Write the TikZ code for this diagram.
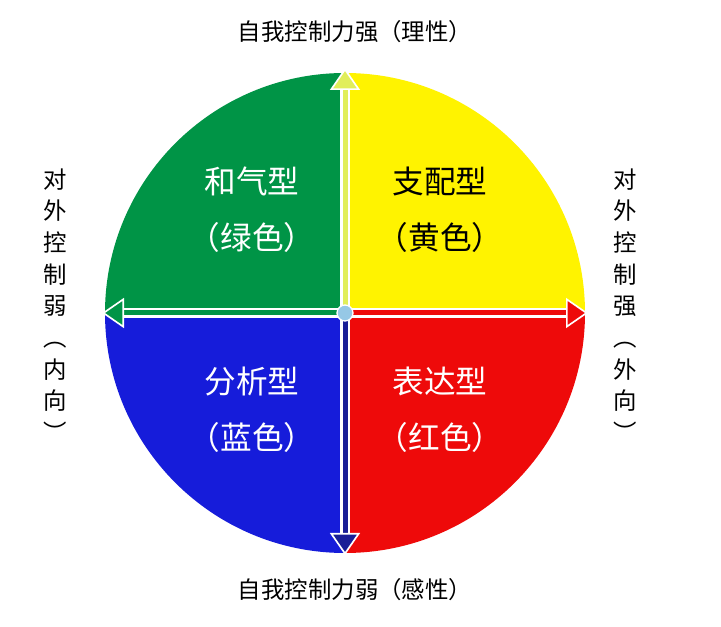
\documentclass[tikz,border=0pt]{standalone}
\usepackage{fontspec}
\setmainfont{Noto Sans CJK SC}
\usetikzlibrary{arrows.meta}
\definecolor{qgreen}{RGB}{0,148,70}
\definecolor{qyellow}{RGB}{255,243,0}
\definecolor{qred}{RGB}{238,10,10}
\definecolor{qblue}{RGB}{22,28,218}
\definecolor{ayellow}{RGB}{225,238,90}
\definecolor{ablue}{RGB}{25,30,150}
\definecolor{dot}{RGB}{150,200,230}
\tikzset{
  axisbg/.style={line width=0.3cm, white, shorten >=0.6cm},
  axis/.style={line width=0.15cm, draw=#1,
    -{Triangle[width=0.9cm,length=0.66cm,color=white,fill=#1,line width=0.05cm]}},
  side/.style={font=\fontsize{20}{26}\selectfont, align=center},
  quad/.style={font=\fontsize{27}{48}\selectfont, align=center}
}
\begin{document}
\begin{tikzpicture}[x=0.03cm,y=-0.03cm]
  \useasboundingbox (0,0) rectangle (721,627);
  % quadrants (y axis points down, so angles run clockwise)
  \fill[qgreen]  (345,313) -- (105,313) arc[start angle=180,end angle=270,radius=240] -- cycle;
  \fill[qyellow] (345,313) -- (345,73) arc[start angle=270,end angle=360,radius=240] -- cycle;
  \fill[qred]    (345,313) -- (585,313) arc[start angle=0,end angle=90,radius=240] -- cycle;
  \fill[qblue]   (345,313) -- (345,553) arc[start angle=90,end angle=180,radius=240] -- cycle;
  \coordinate (top) at (345,68);
  \coordinate (bot) at (345,555);
  \coordinate (lft) at (102,313);
  \coordinate (rgt) at (588,313);
  \node[circle,inner sep=0pt,minimum size=0.48cm] (O) at (345,313) {};
  \foreach \e/\c in {top/ayellow,lft/qgreen,rgt/qred,bot/ablue}{
    \draw[axisbg] (O.center) -- (\e);
    \draw[axis=\c] (O.center) -- (\e);
  }
  \fill[dot,draw=white,line width=0.04cm] (O) circle[radius=0.24cm];
  % texts
  \node[side] (tt) at (355,32) {自我控制力强（理性）};
  \node[side] (bt) at (355,590) {自我控制力弱（感性）};
  \node[side,font=\fontsize{20}{27}\selectfont] (lt) at (55,305) {对\\外\\控\\制\\弱\\︵\\内\\向\\︶};
  \node[side,font=\fontsize{20}{27}\selectfont] (rt) at (625,305) {对\\外\\控\\制\\强\\︵\\外\\向\\︶};
  \node[quad,white] (g) at (252,210) {和气型\\（绿色）};
  \node[quad] (y) at (440,210) {支配型\\（黄色）};
  \node[quad,white] (b) at (252,410) {分析型\\（蓝色）};
  \node[quad,white] (r) at (440,410) {表达型\\（红色）};
\end{tikzpicture}
\end{document}
